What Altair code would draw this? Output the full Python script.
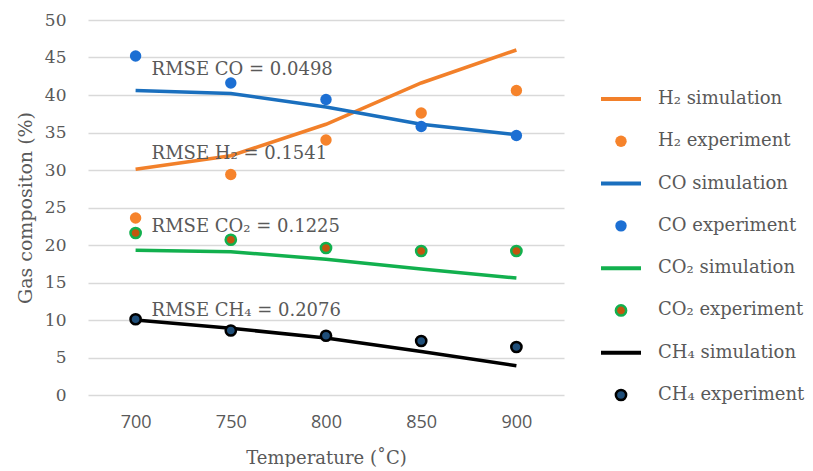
import altair as alt
import pandas as pd

# ---------------- data ----------------
temps = [700, 750, 800, 850, 900]

h2_sim = [30.1, 31.9, 36.1, 41.6, 46.0]
h2_exp = [23.6, 29.4, 34.0, 37.6, 40.6]
co_sim = [40.6, 40.2, 38.4, 36.1, 34.7]
co_exp = [45.2, 41.6, 39.4, 35.8, 34.6]
co2_sim = [19.3, 19.1, 18.1, 16.8, 15.6]
co2_exp = [21.6, 20.7, 19.6, 19.2, 19.2]
ch4_sim = [10.0, 8.9, 7.6, 5.8, 3.9]
ch4_exp = [10.1, 8.6, 7.9, 7.2, 6.4]

sim_names = ["H₂ simulation", "CO simulation", "CO₂ simulation", "CH₄ simulation"]
exp_names = ["H₂ experiment", "CO experiment", "CO₂ experiment", "CH₄ experiment"]

sim_colors = ["#F2802A", "#1A6FBE", "#12B04E", "#000000"]
exp_fills = ["#F6832B", "#1C6FD3", "#C2560F", "#1F4E79"]
exp_strokes = ["#F6832B", "#1C6FD3", "#12B04E", "#000000"]
exp_outlined = [False, False, True, True]

ann_text = ["RMSE CO = 0.0498", "RMSE H₂ = 0.1541", "RMSE CO₂ = 0.1225", "RMSE CH₄ = 0.2076"]
ann_x = [700, 700, 700, 700]
ann_y = [43.3, 32.1, 22.4, 11.2]

y_ticks = [0, 5, 10, 15, 20, 25, 30, 35, 40, 45, 50]

# ---------------- tables ----------------
sim_values = [h2_sim, co_sim, co2_sim, ch4_sim]
exp_values = [h2_exp, co_exp, co2_exp, ch4_exp]

sim_rows = []
for name, vals, col in zip(sim_names, sim_values, sim_colors):
    for t, v in zip(temps, vals):
        sim_rows.append({"T": t, "value": v, "series": name, "color": col})
sim_df = pd.DataFrame(sim_rows)

exp_rows = []
for name, vals, fc, sc, ol in zip(exp_names, exp_values, exp_fills, exp_strokes, exp_outlined):
    for t, v in zip(temps, vals):
        exp_rows.append({"T": t, "value": v, "series": name, "fill": fc,
                         "stroke": sc, "outlined": ol})
exp_df = pd.DataFrame(exp_rows)

ann_df = pd.DataFrame({"T": ann_x, "value": ann_y, "text": ann_text})

legend_labels = []
legend_kind = []
legend_fill = []
legend_stroke = []
legend_outlined = []
for i in range(4):
    legend_labels += [sim_names[i], exp_names[i]]
    legend_kind += ["line", "point"]
    legend_fill += [sim_colors[i], exp_fills[i]]
    legend_stroke += [sim_colors[i], exp_strokes[i]]
    legend_outlined += [False, exp_outlined[i]]
legend_df = pd.DataFrame({"label": legend_labels, "kind": legend_kind,
                          "fill": legend_fill, "stroke": legend_stroke,
                          "outlined": legend_outlined})

GRAY = "#595959"
SERIF = "DejaVu Serif"

x_enc = alt.X(
    "T:O",
    scale=alt.Scale(type="point", padding=0.5),
    axis=alt.Axis(labelAngle=0, domain=False, ticks=False, grid=False,
                  labelFont="Open Sans", labelFontSize=18, labelColor=GRAY,
                  labelPadding=18, title="Temperature (˚C)", titleFont=SERIF,
                  titleFontSize=18, titleFontWeight="normal", titleColor=GRAY,
                  titlePadding=18),
)
y_enc = alt.Y(
    "value:Q",
    scale=alt.Scale(domain=[0, 50], nice=False, zero=False),
    axis=alt.Axis(values=y_ticks, grid=True, gridColor="#D9D9D9", gridWidth=1.3,
                  gridOpacity=1, labelOverlap=False,
                  domain=False, ticks=False, labelFont=SERIF, labelFontSize=17,
                  labelColor=GRAY, labelPadding=22, title="Gas compositon (%)",
                  titleFont=SERIF, titleFontSize=19, titleFontWeight="normal",
                  titleColor=GRAY, titlePadding=9),
)

lines = alt.Chart(sim_df).mark_line(strokeWidth=3.5).encode(
    x=x_enc, y=y_enc,
    color=alt.Color("color:N", scale=None),
    detail="series:N",
)

pts_plain = alt.Chart(exp_df).transform_filter("!datum.outlined").mark_point(
    filled=True, size=130, opacity=1, strokeWidth=0
).encode(
    x=x_enc, y=y_enc,
    fill=alt.Fill("fill:N", scale=None),
)

pts_outlined = alt.Chart(exp_df).transform_filter("datum.outlined").mark_point(
    filled=True, size=105, opacity=1, strokeWidth=2.5
).encode(
    x=x_enc, y=y_enc,
    fill=alt.Fill("fill:N", scale=None),
    stroke=alt.Stroke("stroke:N", scale=None),
)

ann = alt.Chart(ann_df).mark_text(
    align="left", baseline="middle", dx=16, font=SERIF, fontSize=18, color=GRAY
).encode(x=x_enc, y=y_enc, text="text:N")

main = alt.layer(lines, pts_plain, pts_outlined, ann).properties(width=476, height=375)

# ---------------- legend panel ----------------
ly = alt.Y("label:N", sort=legend_labels,
           scale=alt.Scale(type="point", padding=0, range=[79, 375]), axis=None)

leg_lines = alt.Chart(legend_df).transform_filter("datum.kind == 'line'").mark_rule(
    strokeWidth=4
).encode(x=alt.value(37), x2=alt.value(77), y=ly,
         color=alt.Color("stroke:N", scale=None))

leg_pts_plain = alt.Chart(legend_df).transform_filter(
    "datum.kind == 'point' && !datum.outlined").mark_point(
    filled=True, size=130, opacity=1, strokeWidth=0
).encode(x=alt.value(57), y=ly, fill=alt.Fill("fill:N", scale=None))

leg_pts_out = alt.Chart(legend_df).transform_filter(
    "datum.kind == 'point' && datum.outlined").mark_point(
    filled=True, size=105, opacity=1, strokeWidth=2.5
).encode(x=alt.value(57), y=ly, fill=alt.Fill("fill:N", scale=None),
         stroke=alt.Stroke("stroke:N", scale=None))

leg_text = alt.Chart(legend_df).mark_text(
    align="left", baseline="middle", font=SERIF, fontSize=18, color=GRAY
).encode(x=alt.value(94), y=ly, text="label:N")

legend = alt.layer(leg_lines, leg_pts_plain, leg_pts_out, leg_text).properties(
    width=240, height=375)

chart = alt.hconcat(main, legend, spacing=0).properties(
    padding={"left": 16, "top": 11, "right": 0, "bottom": 0},
    background="white",
).configure_view(stroke=None)

chart.save("out.html", embed_options={"renderer": "svg", "actions": False})
